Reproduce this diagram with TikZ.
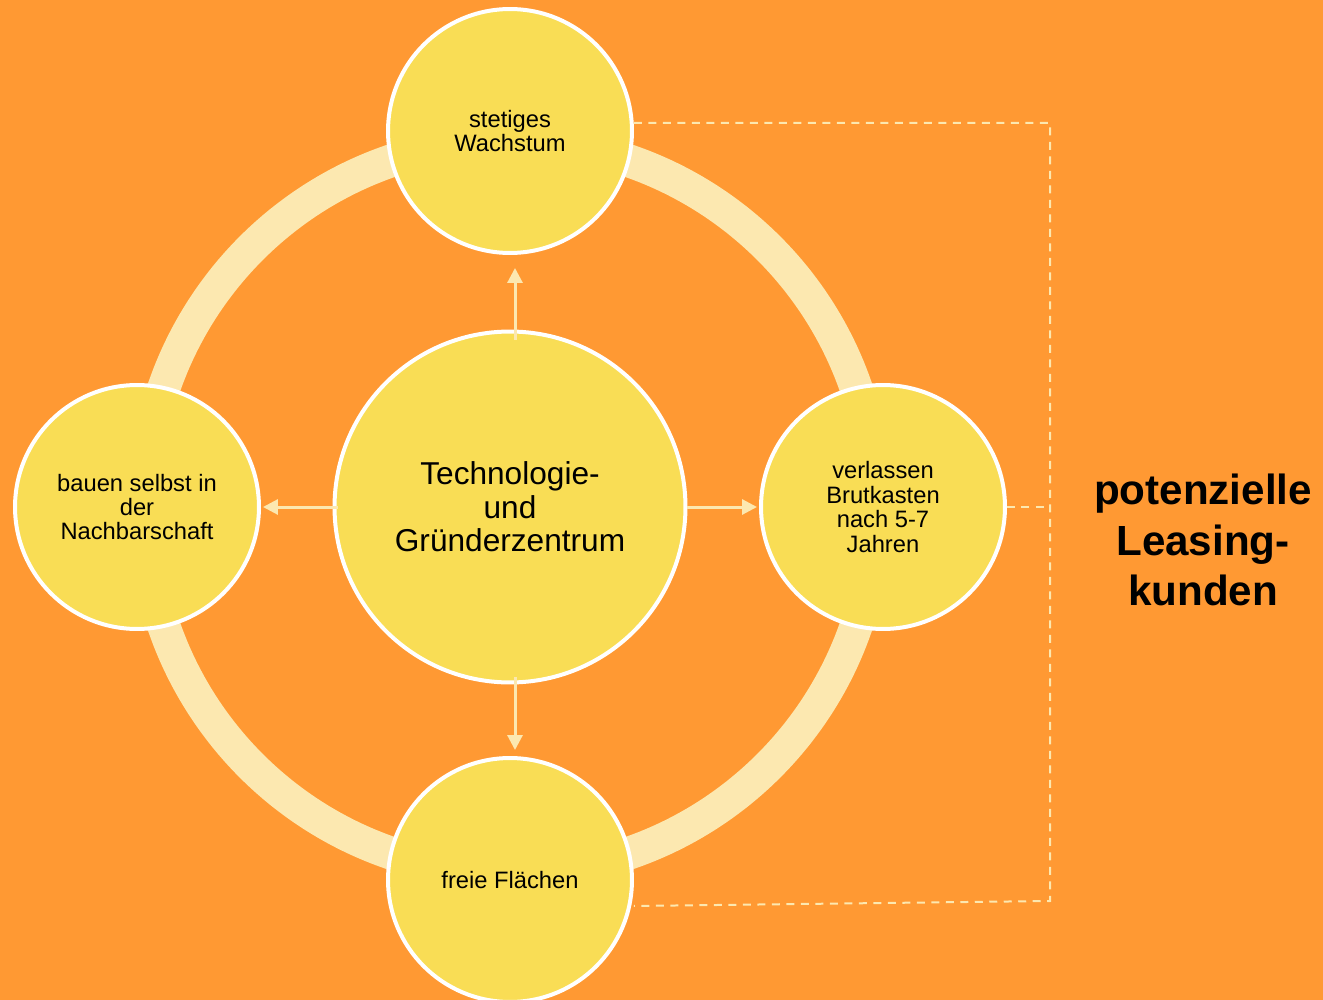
\documentclass[tikz,border=0pt]{standalone}
\usepackage{fontspec}
\setmainfont{Liberation Sans}
\usetikzlibrary{arrows.meta}
\definecolor{orangebg}{HTML}{FF9933}
\definecolor{sunyellow}{HTML}{F9DD55}
\definecolor{palering}{HTML}{FCE8B0}
\pgfdeclarelayer{nodelayer}
\pgfdeclarelayer{edgelayer}
\pgfsetlayers{main,nodelayer,edgelayer}
\tikzstyle{bubble}=[circle,fill=sunyellow,draw=white,line width=0.08cm,minimum size=4.88cm,inner sep=0pt,align=center,font=\fontsize{13.5}{13.9}\selectfont]
\tikzstyle{hub}=[bubble,minimum size=7.02cm,font=\fontsize{18}{19}\selectfont]
\tikzstyle{flow}=[-{Triangle[width=0.3cm,length=0.3cm]},draw=palering,fill=palering,line width=0.06cm]
\tikzstyle{bracket}=[draw=palering,line width=0.04cm,dash pattern=on 0.16cm off 0.13cm]

\begin{document}
\begin{tikzpicture}[x=0.02cm,y=-0.02cm]
	\useasboundingbox (0,0) rectangle (1323,1000);
	\fill [orangebg] (0,0) rectangle (1323,1000);
	\draw [palering,line width=0.66cm] (510,507) circle [radius=7.32cm];
	\begin{pgfonlayer}{nodelayer}
		\node [style=hub] (tgz) at (510,507) {Technologie-\\und\\Gründerzentrum};
		\node [style=bubble] (wachstum) at (510,131) {stetiges\\Wachstum};
		\node [style=bubble] (nachbar) at (137,507) {bauen selbst in\\der\\Nachbarschaft};
		\node [style=bubble] (brut) at (883,507) {verlassen\\Brutkasten\\nach 5-7\\Jahren};
		\node [style=bubble] (flaechen) at (510,880) {freie Flächen};
		\node [font=\fontsize{24}{28.6}\selectfont\bfseries,align=center] (kunden) at (1203,540) {potenzielle\\Leasing-\\kunden};
		\coordinate (ecke1) at (1050,123);
		\coordinate (ecke2) at (1050,901);
	\end{pgfonlayer}
	\begin{pgfonlayer}{edgelayer}
		\draw [style=flow, shorten <=-0.2cm, shorten >=0.26cm] ([xshift=0.1cm]tgz.north) -- ([xshift=0.1cm]wachstum.south);
		\draw [style=flow, shorten <=-0.1cm, shorten >=0.04cm] (tgz.west) -- (nachbar.east);
		\draw [style=flow, shorten >=0.04cm] (tgz.east) -- (brut.west);
		\draw [style=flow, shorten <=-0.14cm, shorten >=0.12cm] ([xshift=0.1cm]tgz.south) -- ([xshift=0.1cm]flaechen.north);
		\draw [style=bracket] ([yshift=0.16cm]wachstum.east) -- (ecke1) -- (ecke2) -- ([yshift=-0.52cm]flaechen.east);
		\draw [style=bracket] (brut.east) -- (brut.east -| ecke1);
	\end{pgfonlayer}
\end{tikzpicture}
\end{document}
